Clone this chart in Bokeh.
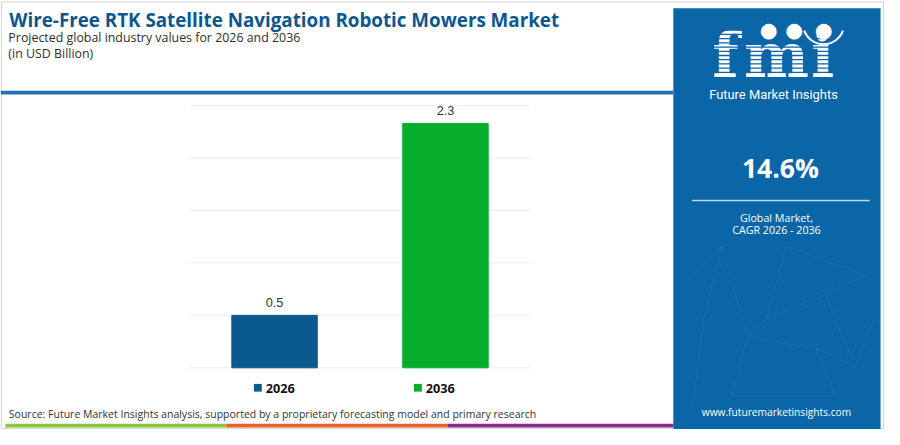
import math
from bokeh.plotting import figure
from bokeh.models import (Range1d, ColumnDataSource, LabelSet, Label)
from bokeh.core.properties import value
from bokeh.embed import file_html
from bokeh.resources import INLINE

# ---------------- data ----------------
years = ["2026", "2036"]
values = [0.5, 2.33]
bar_colors = ["#0B5A8E", "#08AD2C"]
grid_ticks = [0.0, 0.5, 1.0, 1.5, 2.0, 2.5]
cagr_text = "14.6%"
title_text = "Wire-Free RTK Satellite Navigation Robotic Mowers Market"
subtitle_text = "Projected global industry values for 2026 and 2036"
unit_text = "(in USD Billion)"
source_text = ("Source: Future Market Insights analysis, supported by a proprietary "
               "forecasting model and primary research")

# ---------------- canvas geometry ----------------
W, H = 884, 429          # canvas px
DW, DH = 900, 445        # design space (reference px)
CH_LEFT, SLOT = 192, 174           # chart area left edge and slot width (design px)
BASE_Y, UNIT = DH - 381, 108.8     # baseline (design y, up) and px per value unit


def fs(px):
    return f"{px * 0.975:.1f}px"


def Y(yref):
    return DH - yref


p = figure(width=W, height=H, x_range=Range1d(0, DW), y_range=Range1d(0, DH),
           output_backend="svg", toolbar_location=None,
           x_axis_type=None, y_axis_type=None, title=None, min_border=0,
           outline_line_color=None, background_fill_color="white",
           border_fill_color="white")

# value ranges for the bar chart, laid over the design space
p.extra_x_ranges = {"cat": Range1d(-CH_LEFT / SLOT - 0.5, (DW - CH_LEFT) / SLOT - 0.5)}
p.extra_y_ranges = {"val": Range1d(-BASE_Y / UNIT, (DH - BASE_Y) / UNIT)}
V = dict(x_range_name="cat", y_range_name="val")


def box(l, r, t, b, color, alpha=1.0):
    p.quad(left=l, right=r, top=Y(t), bottom=Y(b), fill_color=color,
           fill_alpha=alpha, line_color=None)


def text(x, y, s, size, color="#333333", font="Open Sans", style="normal",
         align="left", baseline="middle", alpha=1.0):
    p.add_layout(Label(x=x, y=Y(y), text=s, text_font=font, text_font_size=fs(size),
                       text_font_style=style, text_color=color, text_align=align,
                       text_baseline=baseline, text_alpha=alpha))


# outer border
p.quad(left=1, right=899, top=Y(1.5), bottom=Y(444), fill_color=None,
       line_color="#D4D4D4", line_width=1)

# grid lines (value space)
n = len(years)
p.segment(x0=[-0.5] * len(grid_ticks), x1=[n - 0.5] * len(grid_ticks),
          y0=grid_ticks, y1=grid_ticks, line_color="#ECECEC", line_width=1, **V)

# bars
src = ColumnDataSource(dict(idx=list(range(n)), cat=years, val=values,
                            color=bar_colors, lbl=[f"{v:.1f}" for v in values]))
p.vbar(x="idx", top="val", width=0.5, color="color", source=src, **V)
p.add_layout(LabelSet(x="idx", y="val", text="lbl", source=src, y_offset=13,
                      text_align="center", text_baseline="middle",
                      text_font=value("Liberation Sans"), text_font_size=fs(13),
                      text_color="#333333", **V))

# titles
text(9, 20, title_text, 19.3, color="#0B5790", style="bold")
text(8, 38, subtitle_text, 12.7, color="#2E2E2E")
text(8, 55, unit_text, 12.7, color="#2E2E2E")

# blue rule
box(0, 685, 93.5, 97.5, "#2372B3")

# right panel
PANEL = "#0B66A8"
box(685, 896, 8, 445, PANEL)

# network decoration (faint)
net = [(735, 255, 716, 330), (716, 330, 705, 420), (735, 255, 760, 350),
       (760, 350, 745, 410), (800, 255, 880, 285), (800, 255, 780, 330),
       (780, 330, 840, 305), (840, 305, 880, 285), (840, 305, 870, 380),
       (780, 330, 760, 350), (760, 350, 830, 360), (830, 360, 870, 380),
       (830, 360, 850, 410), (745, 410, 850, 410), (700, 290, 735, 255),
       (870, 380, 890, 330)]
p.segment(x0=[a[0] for a in net], y0=[Y(a[1]) for a in net],
          x1=[a[2] for a in net], y1=[Y(a[3]) for a in net],
          line_color="white", line_alpha=0.08, line_width=0.8)

# fmi logo (letters, then stripes cut through them)
logo_letters = ["f", "m", "i"]
logo_x = [738, 790, 837]
p.text(x=logo_x, y=[Y(56.5)] * 3, text=logo_letters, text_font=value("DejaVu Serif"),
       text_font_style="bold", text_font_size=fs(63), text_color="white",
       text_align="center", text_baseline="alphabetic")
stripes = []
yy = 30.0
while yy < 76:
    stripes.append(yy)
    yy += 4.4
p.quad(left=712, right=862, top=[Y(s) for s in stripes],
       bottom=[Y(s + 1.3) for s in stripes], fill_color=PANEL, line_color=None)
p.text(x=[782, 808, 838], y=[Y(31)] * 3, text=["\u25CF"] * 3,
       text_font=value("DejaVu Sans"), text_font_size=fs(21), text_color="white",
       text_align="center", text_baseline="middle")
p.arc(x=838, y=Y(24), radius=21, start_angle=math.radians(200),
      end_angle=math.radians(340), line_color="white", line_width=2)
text(787, 97, "Future Market Insights", 13.2, color="white", font="Roboto", align="center")

# CAGR
text(794, 174, cagr_text, 27.2, color="white", style="bold", align="center")
box(704, 885, 206.8, 208.2, "white", alpha=0.75)
text(790, 226, "Global Market,", 11, color="white", align="center")
text(790, 238, "CAGR 2026 - 2036", 11, color="white", align="center")
text(790, 427, "www.futuremarketinsights.com", 10.5, color="white", align="center")

# legend
leg_x = [258, 421]
for i, yr in enumerate(years):
    box(leg_x[i], leg_x[i] + 8, 397.7, 405.7, bar_colors[i])
    text(leg_x[i] + 12, 402, yr, 13, color="#111111", style="bold")

# source
text(8.5, 429, source_text, 10.8, color="#333333")

# bottom stripe
box(5, 230, 439, 443, "#8CC63F")
box(230, 455, 439, 443, "#E8602C")
box(455, 685, 439, 443, "#8B2C8C")

open("out.html", "w").write(file_html(p, INLINE))
